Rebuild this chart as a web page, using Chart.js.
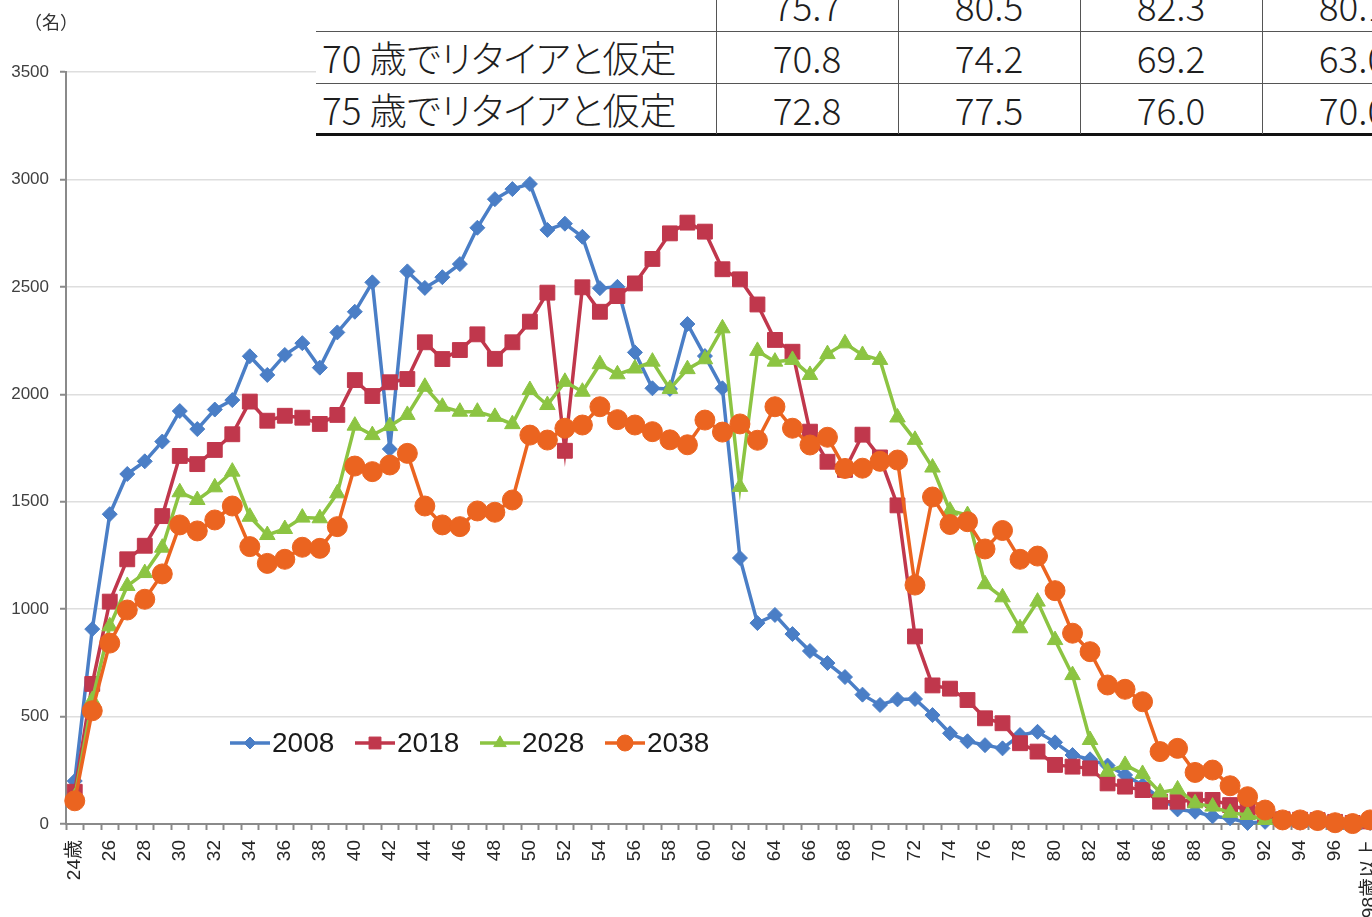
<!DOCTYPE html>
<html><head><meta charset="utf-8">
<script src="https://cdn.jsdelivr.net/npm/chart.js@4/dist/chart.umd.min.js"></script>
<style>
html,body{margin:0;padding:0;background:#fff;overflow:hidden;width:1372px;height:917px;}
#wrap{position:absolute;left:0;top:0;width:1500px;height:960px;}
#unit{position:absolute;left:24px;top:10px;font-family:"Noto Sans CJK JP";font-size:18px;line-height:22px;color:#333;}
#tbl{position:absolute;left:316px;top:-21px;width:1128px;height:157px;background:#fff;font-family:"Noto Sans CJK JP";font-weight:300;font-size:37px;color:#1e1e1e;font-feature-settings:"palt";}
#tbl .cell{position:absolute;height:52px;line-height:52px;white-space:nowrap;}
#tbl .h{position:absolute;left:0;width:1128px;height:1px;background:#555;}
#tbl .v{position:absolute;top:0;width:1px;height:155px;background:#555;}
</style></head>
<body>
<div id="wrap"><canvas id="c" width="1379" height="960"></canvas></div>
<div id="unit">（名）</div>
<div id="tbl"></div>
<script>
const categories = ['24歳','25','26','27','28','29','30','31','32','33','34','35','36','37','38','39','40','41','42','43','44','45','46','47','48','49','50','51','52','53','54','55','56','57','58','59','60','61','62','63','64','65','66','67','68','69','70','71','72','73','74','75','76','77','78','79','80','81','82','83','84','85','86','87','88','89','90','91','92','93','94','95','96','97','98歳以上'];

const s2008 = [200,907,1442,1629,1688,1780,1922,1838,1929,1973,2177,2090,2183,2238,2124,2288,2384,2521,1745,2572,2495,2545,2606,2775,2908,2955,2979,2765,2794,2733,2494,2500,2195,2028,2025,2327,2178,2028,1238,935,973,884,805,749,684,602,554,580,582,507,422,385,367,352,414,429,380,321,301,272,228,180,120,68,57,36,27,5,10,8,6,5,4,2,5];
const s2018 = [150,652,1035,1232,1295,1433,1713,1675,1741,1814,1966,1877,1900,1891,1862,1904,2066,1992,2056,2071,2242,2164,2206,2279,2165,2242,2338,2473,1737,2498,2384,2457,2516,2630,2749,2799,2757,2582,2535,2418,2253,2198,1826,1686,1648,1812,1706,1483,873,645,630,577,492,469,376,337,275,267,259,189,174,158,104,104,113,112,88,65,42,22,20,18,10,5,12];
const s2028 = [125,577,920,1108,1168,1286,1544,1508,1567,1640,1430,1345,1373,1426,1423,1539,1854,1810,1852,1904,2035,1942,1919,1919,1895,1861,2020,1950,2058,2012,2140,2093,2120,2152,2025,2117,2163,2307,1569,2202,2152,2160,2090,2187,2237,2183,2160,1892,1788,1659,1458,1438,1116,1055,911,1035,856,693,391,243,275,233,147,161,96,81,52,42,19,15,12,10,6,3,8];
const s2038 = [108,527,842,996,1046,1164,1392,1364,1415,1480,1291,1213,1232,1288,1283,1384,1666,1640,1671,1725,1480,1392,1384,1457,1451,1508,1810,1787,1842,1857,1942,1882,1857,1826,1788,1765,1880,1824,1862,1786,1942,1842,1764,1800,1655,1656,1688,1694,1112,1522,1394,1407,1280,1366,1232,1247,1086,888,802,647,627,569,337,352,240,251,178,127,65,19,19,16,6,2,19];

const seriesNames = ['2008','2018','2028','2038'];
const yTicks = [0,500,1000,1500,2000,2500,3000,3500];

const tableRows = [
  ['', '75.7', '80.5', '82.3', '80.1'],
  ['70 歳でリタイアと仮定', '70.8', '74.2', '69.2', '63.0'],
  ['75 歳でリタイアと仮定', '72.8', '77.5', '76.0', '70.0']
];

// ---- table overlay ----
(function(){
  const t = document.getElementById('tbl');
  const colX = [0,400,582,764,946];
  const colW = [400,182,182,182,182];
  tableRows.forEach((row, r) => {
    row.forEach((txt, c) => {
      const d = document.createElement('div');
      d.className = 'cell';
      d.textContent = txt;
      d.style.top = (r*52) + 'px';
      if (c === 0) { d.style.left = '6px'; }
      else { d.style.left = colX[c] + 'px'; d.style.width = colW[c] + 'px'; d.style.textAlign = 'center'; }
      t.appendChild(d);
    });
  });
  [52,104].forEach(y => { const h = document.createElement('div'); h.className='h'; h.style.top=y+'px'; t.appendChild(h); });
  const b = document.createElement('div'); b.className='h'; b.style.top='154px'; b.style.height='3px'; b.style.background='#111'; t.appendChild(b);
  [400,582,764,946].forEach(x => { const v = document.createElement('div'); v.className='v'; v.style.left=x+'px'; t.appendChild(v); });
})();

const COLORS = ['#4a7ec6', '#c0374c', '#8cc442', '#eb6420'];
const STYLES = ['rectRot', 'rect', 'triangle', 'circle'];
const RADII = [7.5, 10.5, 9, 10];

function drawMarker(ctx, style, x, y, r, color) {
  ctx.save();
  ctx.fillStyle = color; ctx.strokeStyle = color; ctx.lineWidth = 1;
  ctx.beginPath();
  if (style === 'rectRot') {
    ctx.moveTo(x - r, y); ctx.lineTo(x, y - r); ctx.lineTo(x + r, y); ctx.lineTo(x, y + r); ctx.closePath();
  } else if (style === 'rect') {
    const s = r * Math.SQRT1_2; ctx.rect(x - s, y - s, 2*s, 2*s);
  } else if (style === 'triangle') {
    ctx.moveTo(x, y - r); ctx.lineTo(x + r*0.866, y + r*0.5); ctx.lineTo(x - r*0.866, y + r*0.5); ctx.closePath();
  } else {
    ctx.arc(x, y, r, 0, Math.PI*2);
  }
  ctx.fill(); ctx.stroke();
  ctx.restore();
}

const legendPlugin = {
  id: 'inlineLegend',
  afterDraw(chart) {
    const ctx = chart.ctx;
    ctx.save();
    ctx.font = '28px "Liberation Sans", Arial, sans-serif';
    ctx.fillStyle = '#1a1a1a';
    ctx.textBaseline = 'middle';
    seriesNames.forEach((name, i) => {
      const x0 = 230 + 125*i, y = 743;
      ctx.strokeStyle = COLORS[i]; ctx.lineWidth = 3.5;
      ctx.beginPath(); ctx.moveTo(x0, y); ctx.lineTo(x0 + 40, y); ctx.stroke();
      drawMarker(ctx, STYLES[i], x0 + 20, y, RADII[i]*0.8, COLORS[i]);
      ctx.fillText(name, x0 + 42, y + 1);
    });
    ctx.restore();
  }
};

function makeConfig() {
  const datasets = [s2008, s2018, s2028, s2038].map((d, i) => ({
    label: seriesNames[i],
    data: d,
    borderColor: COLORS[i],
    backgroundColor: COLORS[i],
    pointBackgroundColor: COLORS[i],
    pointBorderColor: COLORS[i],
    borderWidth: 3.5,
    pointStyle: STYLES[i],
    pointRadius: RADII[i],
    pointBorderWidth: 1,
    tension: 0,
    order: 3 - i,
    clip: 20
  }));
  return {
    type: 'line',
    data: { labels: categories, datasets },
    options: {
      responsive: false,
      animation: false,
      layout: { padding: { top: 72, left: 0, right: 0, bottom: 0 } },
      plugins: { legend: { display: false }, tooltip: { enabled: false } },
      scales: {
        x: {
          type: 'category',
          offset: true,
          grid: { offset: true, drawOnChartArea: false, drawTicks: true, tickLength: 6, tickColor: '#8a8a8a', tickWidth: 2 },
          border: { color: '#8a8a8a', width: 2 },
          ticks: {
            autoSkip: false, maxRotation: 90, minRotation: 90, padding: 10,
            color: '#262626',
            font: { family: '"Liberation Sans", "Noto Sans CJK JP", sans-serif', size: 19 },
            callback: (v, i) => (i % 2 === 0 ? categories[i] : '')
          },
          afterFit: s => { s.height = 136; }
        },
        y: {
          min: 0, max: 3500,
          afterBuildTicks: s => { s.ticks = yTicks.map(v => ({ value: v })); },
          grid: { color: '#dedede', lineWidth: 1.5, tickLength: 6, tickColor: '#8a8a8a', tickWidth: 2 },
          border: { color: '#8a8a8a', width: 2 },
          ticks: { padding: 11, color: '#404040', font: { family: '"Liberation Sans", sans-serif', size: 17 },
                   callback: v => String(v) },
          afterFit: s => { s.width = 66; }
        }
      }
    },
    plugins: [legendPlugin]
  };
}

// plot area should end at x = 1379 (partly outside the 1372px window, as in the reference)
const TARGET_RIGHT = 1379;
const canvas = document.getElementById('c');
let chart = new Chart(canvas, makeConfig());
const extra = Math.round(TARGET_RIGHT - chart.chartArea.right);
if (extra !== 0) {
  chart.destroy();
  canvas.width = 1379 + extra;
  canvas.height = 960;
  chart = new Chart(canvas, makeConfig());
}
</script>
</body></html>
